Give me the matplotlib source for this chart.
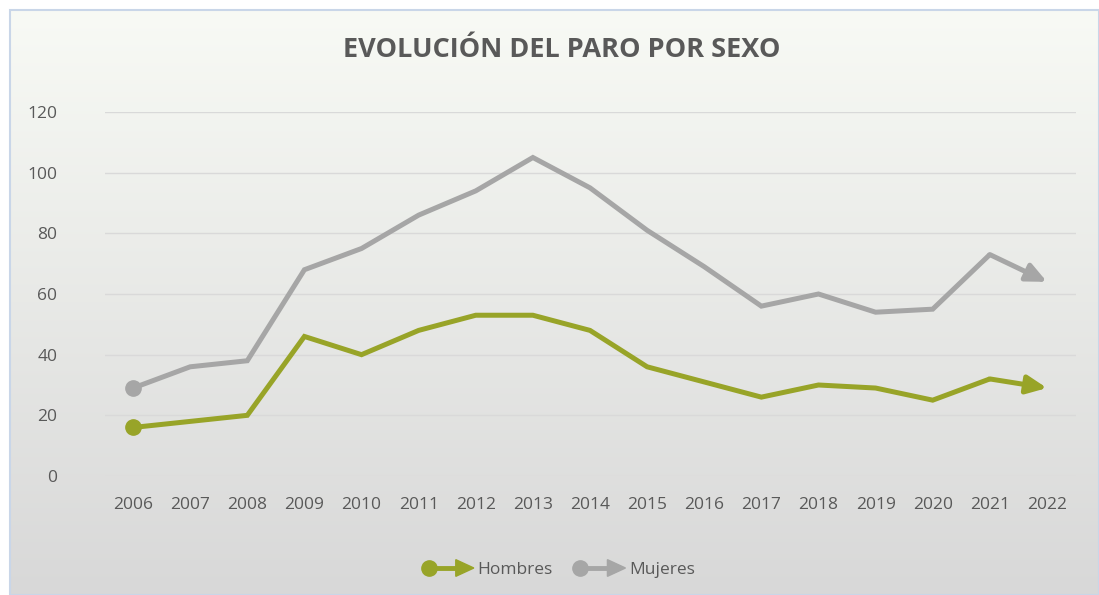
import numpy as np
import matplotlib
matplotlib.use("Agg")
import matplotlib.pyplot as plt
from matplotlib.legend_handler import HandlerBase
from matplotlib.lines import Line2D
from matplotlib.patches import Polygon, Rectangle

# datos
anios = [2006, 2007, 2008, 2009, 2010, 2011, 2012, 2013, 2014,
         2015, 2016, 2017, 2018, 2019, 2020, 2021, 2022]
hombres = [16, 18, 20, 46, 40, 48, 53, 53, 48, 36, 31, 26, 30, 29, 25, 32, 29]
mujeres = [29, 36, 38, 68, 75, 86, 94, 105, 95, 81, 69, 56, 60, 54, 55, 73, 64]
series = [("Hombres", hombres, "#98A428"), ("Mujeres", mujeres, "#A6A6A6")]
titulo = "EVOLUCIÓN DEL PARO POR SEXO"
yticks = [0, 20, 40, 60, 80, 100, 120]

plt.rcParams["font.family"] = ["Open Sans", "DejaVu Sans"]
texto = "#595959"

fig = plt.figure(figsize=(10.99, 5.95), dpi=100)

# fondo degradado del grafico
bg = fig.add_axes([10 / 1099, 0, 1 - 10 / 1099, 1 - 10 / 595])
top = np.array([248, 250, 245]) / 255
bot = np.array([216, 216, 216]) / 255
t = np.linspace(0, 1, 256)[:, None]
grad = top * (1 - t) + bot * t
bg.imshow(grad[:, None, :], aspect="auto", extent=[0, 1, 0, 1])
bg.set_xlim(0, 1)
bg.set_ylim(0, 1)
bg.axis("off")
bg.add_patch(Rectangle((0, 0), 1, 1, fill=False, ec="#C9D6E8", lw=1.5,
                       transform=bg.transAxes, clip_on=False))

ax = fig.add_axes([104.5 / 1099, 1 - 476 / 595, 971 / 1099, 364 / 595])
ax.patch.set_alpha(0)

for nombre, vals, color in series:
    ax.plot(anios[:-1], vals[:-1], color=color, lw=3.6, solid_joinstyle="miter",
            solid_capstyle="butt", zorder=3)
    ax.plot(anios[0], vals[0], "o", color=color, ms=11, zorder=4)
    ax.annotate("", xy=(anios[-1], vals[-1]), xytext=(anios[-2], vals[-2]),
                arrowprops=dict(arrowstyle="-|>,head_length=1.2,head_width=0.55",
                                color=color, lw=3.6, shrinkA=0, shrinkB=0),
                zorder=3)

ax.set_xlim(anios[0] - 0.5, anios[-1] + 0.5)
ax.set_ylim(0, 120)
ax.set_yticks(yticks)
ax.set_xticks(anios)
ax.set_xticklabels([str(a) for a in anios])
ax.grid(axis="y", color="#D9D9D9", lw=1)
ax.set_axisbelow(True)
for s in ax.spines.values():
    s.set_visible(False)
ax.tick_params(length=0, labelsize=12.5, colors=texto)
ax.tick_params(axis="y", pad=34)
ax.tick_params(axis="x", pad=15)

fig.text(0.511, 1 - 50 / 595, titulo, ha="center", va="center",
         fontsize=19.5, fontweight="bold", color=texto)


class FlechaHandler(HandlerBase):
    def create_artists(self, legend, orig_handle, xdescent, ydescent,
                       width, height, fontsize, trans):
        color = orig_handle.get_color()
        y = height / 2 - ydescent
        x0 = -xdescent + 5
        x1 = -xdescent + width
        hl = 13
        linea = Line2D([x0, x1 - hl], [y, y], color=color, lw=3.5,
                       marker="o", ms=11, markevery=[0], transform=trans)
        cabeza = Polygon([[x1 - hl, y - 6], [x1, y], [x1 - hl, y + 6]],
                         closed=True, color=color, transform=trans)
        return [linea, cabeza]


handles = [Line2D([], [], color=c) for _, _, c in series]
leg = fig.legend(handles, [n for n, _, _ in series], loc="center",
                 bbox_to_anchor=(0.508, 1 - 570 / 595), ncol=2, frameon=False,
                 handler_map={Line2D: FlechaHandler()}, handlelength=3.0,
                 handletextpad=0.2, columnspacing=1.2, fontsize=12.5)
for txt in leg.get_texts():
    txt.set_color(texto)

fig.savefig("out.png", dpi=100)
